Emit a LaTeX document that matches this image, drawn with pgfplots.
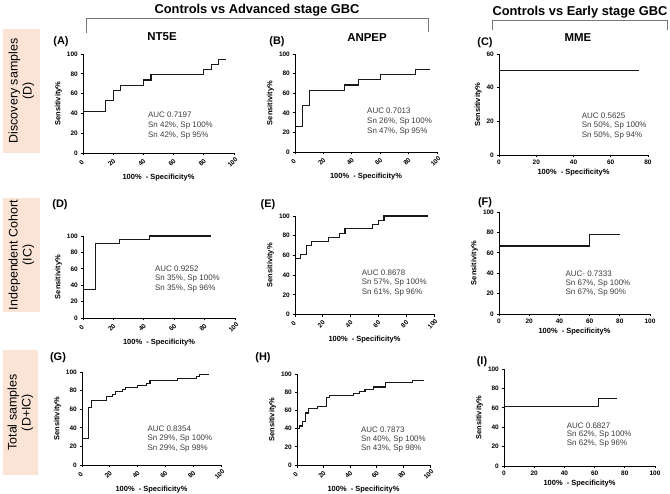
\documentclass[border=0pt]{standalone}
\usepackage{fontspec}
\setmainfont{Liberation Sans}
\usepackage{pgfplots}
\pgfplotsset{compat=1.18}
\definecolor{boxfill}{RGB}{251,228,214}
\definecolor{brk}{RGB}{120,120,120}
\definecolor{auc}{RGB}{60,60,60}
\definecolor{crv}{RGB}{25,25,25}
\pgfplotsset{
 roc/.style={
  scale only axis, anchor=south west,
  axis lines=left, axis line style={-, line width=0.8bp, black},
  xmin=0, xmax=100, ymin=0, ymax=100,
  xtick={0,20,...,100}, ytick={0,20,...,100},
  tick align=outside, major tick length=2.5bp,
  tick style={line width=0.7bp, black},
  ticklabel style={font=\fontsize{6.5}{6.5}\selectfont\bfseries},
  /pgf/number format/assume math mode=true,
  yticklabel style={xshift=-1bp, inner sep=1.5bp},
  ylabel={Sensitivity\%}, xlabel={100\%\ \ - Specificity\%},
  label style={font=\fontsize{7.5}{8}\selectfont\bfseries},
  clip=false,
 },
 rot/.style={xticklabel style={yshift=-7bp, xshift=-1.5bp, rotate=45, anchor=center, inner sep=0pt},
   xlabel style={at={(axis description cs:0.5,0)}, anchor=center, yshift=-25bp}},
 upr/.style={xticklabel style={yshift=-1bp, inner sep=1.5bp},
   xlabel style={at={(axis description cs:0.5,0)}, anchor=center, yshift=-18bp}},
 crvstyle/.style={crv, line width=1.1bp, mark=none, const plot},
}
\tikzset{auct/.style={anchor=west, inner sep=0pt, text=auc, font=\fontsize{8}{8}\selectfont}}
\newcommand{\auctext}[7]{%
 \node[auct] at (axis cs:#1,#2) {#5};
 \node[auct] at (axis cs:#1,#3) {#6};
 \node[auct] at (axis cs:#1,#4) {#7};}

\pgfplotstableread{
x y
0 42.1
15 52.6
20 63.2
25 68.4
40 73.7
45 78.9
80 84.2
85 89.5
90 94.7
95 94.7
}\tabA
\pgfplotstableread{
x y
0 26.3
5 47.4
10 63.2
35 68.4
45 73.7
60 78.9
85 84.2
95 84.2
}\tabB
\pgfplotstableread{
x y
0 50
75 50
}\tabC
\pgfplotstableread{
x y
0 34.8
8 91.3
24 95.7
44 100
84 100
}\tabD
\pgfplotstableread{
x y
0 56.5
4 60.9
8 69.6
12 73.9
24 78.3
32 82.6
36 87.0
56 91.3
60 95.7
64 100
96 100
}\tabE
\pgfplotstableread{
x y
0 66.7
60 77.8
80 77.8
}\tabF
\pgfplotstableread{
x y
0 28.6
4.4 61.9
6.7 69.0
17.8 73.8
22.2 76.2
24.4 78.6
28.9 81.0
31.1 83.3
40 85.7
46.7 88.1
48.9 90.5
68.9 92.9
82.2 95.2
84.4 97.6
91.1 97.6
}\tabG
\pgfplotstableread{
x y
0 40.5
2.2 42.9
4.4 47.6
6.7 57.1
8.9 61.9
15.6 64.3
22.2 73.8
24.4 76.2
42.2 78.6
46.7 81.0
51.1 83.3
57.8 85.7
66.7 90.5
86.7 92.9
95.6 92.9
}\tabH
\pgfplotstableread{
x y
0 61.5
62.5 69.2
75 69.2
}\tabI

\begin{document}
\begin{tikzpicture}
\path[use as bounding box] (0,0) rectangle (670bp,494bp);

% headers
\node[font=\fontsize{12.9}{13}\selectfont\bfseries] at (257bp,484bp) {Controls vs Advanced stage GBC};
\node[font=\fontsize{12.9}{13}\selectfont\bfseries] at (580bp,482bp) {Controls vs Early stage GBC};
\draw[brk, line width=0.8bp] (86bp,461bp) -- (86bp,476bp) -- (428bp,476bp) -- (428bp,462bp);
\draw[brk, line width=0.8bp] (492bp,464bp) -- (492bp,474bp) -- (667bp,474bp) -- (667bp,464bp);

% row labels
\fill[boxfill] (3bp,341bp) rectangle (40bp,465bp);
\fill[boxfill] (3bp,182bp) rectangle (40bp,296bp);
\fill[boxfill] (3bp,19bp) rectangle (38bp,144bp);
\node[rotate=90, align=center, font=\fontsize{12.5}{14}\selectfont] at (21.5bp,403bp) {Discovery samples\\(D)};
\node[rotate=90, align=center, font=\fontsize{12.5}{14}\selectfont] at (21.5bp,239bp) {Independent Cohort\\(IC)};
\node[rotate=90, align=center, font=\fontsize{12.5}{14}\selectfont] at (20.5bp,81.5bp) {Total samples\\(D+IC)};

% panel letters and titles
\tikzset{plet/.style={font=\fontsize{11}{11}\selectfont\bfseries}}
\node[plet] at (61bp,452bp) {(A)};
\node[plet] at (277bp,452bp) {(B)};
\node[plet] at (485bp,451bp) {(C)};
\node[plet] at (60bp,289bp) {(D)};
\node[plet] at (268bp,289bp) {(E)};
\node[plet] at (485bp,291bp) {(F)};
\node[plet] at (58bp,136bp) {(G)};
\node[plet] at (263bp,136bp) {(H)};
\node[plet] at (482bp,132bp) {(I)};
\tikzset{gtit/.style={font=\fontsize{11.5}{12}\selectfont\bfseries}}
\node[gtit] at (162bp,457bp) {NT5E};
\node[gtit] at (367bp,456bp) {ANPEP};
\node[gtit] at (578bp,456bp) {MME};

% A
\begin{axis}[roc, rot, at={(83bp,341bp)}, width=151bp, height=99bp]
\addplot[crvstyle] table[x=x,y=y] {\tabA};
\auctext{43}{38.3}{28.1}{18.0}{AUC 0.7197}{Sn 42\%, Sp 100\%}{Sn 42\%, Sp 95\%}
\end{axis}
% B
\begin{axis}[roc, rot, at={(295bp,342bp)}, width=142bp, height=98bp]
\addplot[crvstyle] table[x=x,y=y] {\tabB};
\auctext{50.7}{41.8}{31.5}{21.3}{AUC 0.7013}{Sn 26\%, Sp 100\%}{Sn 47\%, Sp 95\%}
\end{axis}
% C
\begin{axis}[roc, upr, at={(499bp,339bp)}, width=149bp, height=101bp,
  xmax=80, ymax=60, xtick={0,20,...,80}, ytick={0,20,40,60}]
\addplot[crvstyle] table[x=x,y=y] {\tabC};
\auctext{44.4}{23.5}{17.6}{11.8}{AUC 0.5625}{Sn 50\%, Sp 100\%}{Sn 50\%, Sp 94\%}
\end{axis}
% D
\begin{axis}[roc, rot, at={(83bp,176bp)}, width=152bp, height=82bp]
\addplot[crvstyle] table[x=x,y=y] {\tabD};
\auctext{47.3}{60.5}{48.4}{36.5}{AUC 0.9252}{Sn 35\%, Sp 100\%}{Sn 35\%, Sp 96\%}
\end{axis}
% E
\begin{axis}[roc, rot, at={(295bp,179.5bp)}, width=139bp, height=98.5bp]
\addplot[crvstyle] table[x=x,y=y] {\tabE};
\auctext{48}{42}{32}{22.5}{AUC 0.8678}{Sn 57\%, Sp 100\%}{Sn 61\%, Sp 96\%}
\end{axis}
% F
\begin{axis}[roc, upr, at={(499bp,180bp)}, width=151bp, height=102bp]
\addplot[crvstyle] table[x=x,y=y] {\tabF};
\auctext{44}{39.2}{29.7}{20.6}{AUC- 0.7333}{Sn 67\%, Sp 100\%}{Sn 67\%, Sp 90\%}
\end{axis}
% G
\begin{axis}[roc, rot, at={(82bp,29bp)}, width=139bp, height=93bp]
\addplot[crvstyle] table[x=x,y=y] {\tabG};
\auctext{47}{38.7}{28}{17.7}{AUC 0.8354}{Sn 29\%, Sp 100\%}{Sn 29\%, Sp 98\%}
\end{axis}
% H
\begin{axis}[roc, rot, at={(297bp,29bp)}, width=133bp, height=91bp]
\addplot[crvstyle] table[x=x,y=y] {\tabH};
\auctext{48}{38.2}{28}{17.6}{AUC 0.7873}{Sn 40\%, Sp 100\%}{Sn 43\%, Sp 98\%}
\end{axis}
% I
\begin{axis}[roc, upr, at={(504bp,28bp)}, width=151bp, height=97bp]
\addplot[crvstyle] table[x=x,y=y] {\tabI};
\auctext{41.5}{41.6}{32.3}{23}{AUC 0.6827}{Sn 62\%, Sp 100\%}{Sn 62\%, Sp 96\%}
\end{axis}
\end{tikzpicture}
\end{document}
